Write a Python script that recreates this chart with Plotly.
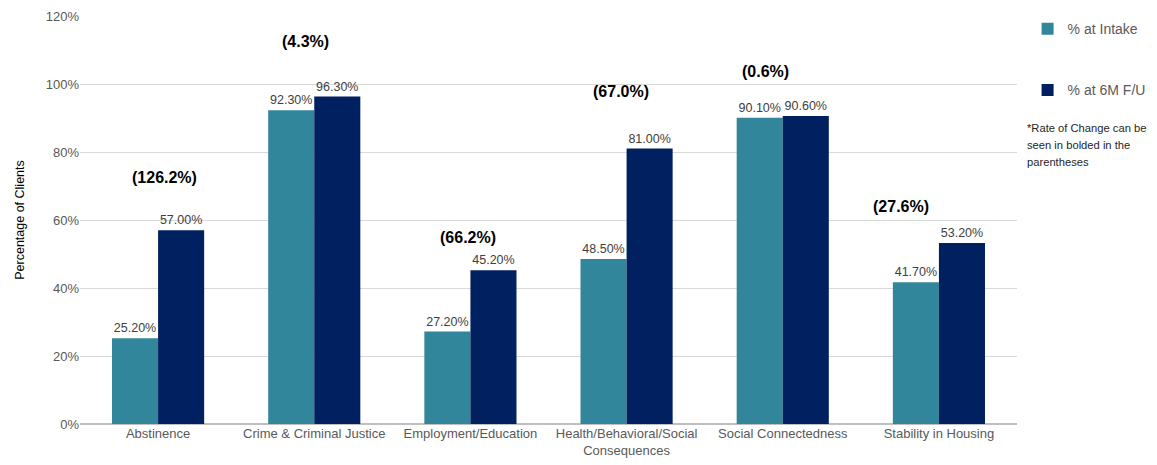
import plotly.graph_objects as go

categories = ["Abstinence", "Crime & Criminal Justice", "Employment/Education",
              "Health/Behavioral/Social<br>Consequences", "Social Connectedness", "Stability in Housing"]
intake = [25.2, 92.3, 27.2, 48.5, 90.1, 41.7]
followup = [57.0, 96.3, 45.2, 81.0, 90.6, 53.2]
rate_labels = ["(126.2%)", "(4.3%)", "(66.2%)", "(67.0%)", "(0.6%)", "(27.6%)"]
rate_label_y = [72.6, 112.4, 55.0, 97.9, 103.8, 64.1]
rate_label_xshift = [6, -9, -2, -6, -17, -38]
note_lines = ["*Rate of Change can be", "seen in bolded in the", "parentheses"]
note_line_y = [0.7255, 0.6838, 0.6422]
tick_vals = [0, 20, 40, 60, 80, 100, 120]

FONT = "Liberation Sans, Arial, sans-serif"

fig = go.Figure()
fig.add_trace(go.Bar(
    x=categories, y=intake, name="% at Intake", legendgroup="a",
    marker=dict(color="#31869B", line=dict(width=0)),
    text=[f"{v:.2f}%" for v in intake], textposition="outside",
    textfont=dict(size=12.5, color="#404040", family=FONT), cliponaxis=False,
))
fig.add_trace(go.Bar(
    x=categories, y=followup, name="% at 6M F/U", legendgroup="b",
    marker=dict(color="#002060", line=dict(width=0)),
    text=[f"{v:.2f}%" for v in followup], textposition="outside",
    textfont=dict(size=12.5, color="#404040", family=FONT), cliponaxis=False,
))

for c, lab, yv, xs in zip(categories, rate_labels, rate_label_y, rate_label_xshift):
    fig.add_annotation(x=c, y=yv, text=f"<b>{lab}</b>", showarrow=False, xshift=xs,
                       font=dict(size=16, color="#000000", family=FONT))

for line, ly in zip(note_lines, note_line_y):
    fig.add_annotation(xref="paper", yref="paper", x=1.0085, y=ly, xanchor="left", yanchor="middle",
                       align="left", showarrow=False, text=line,
                       font=dict(size=11.2, color="#262626", family=FONT))

fig.update_layout(
    width=1149, height=457,
    margin=dict(l=72, r=140, t=8, b=41, autoexpand=False),
    plot_bgcolor="white", paper_bgcolor="white",
    barmode="group", bargap=0.41, bargroupgap=0,
    font=dict(family=FONT, color="#595959", size=13),
    legend=dict(x=1.0113, y=1.007, xanchor="left", yanchor="top", traceorder="grouped",
                tracegroupgap=40, font=dict(size=14, color="#595959", family=FONT),
                itemwidth=30),
    xaxis=dict(showgrid=False, showline=False, ticks="", automargin=False,
               tickfont=dict(size=13, color="#595959", family=FONT)),
    yaxis=dict(range=[0, 120], tickvals=tick_vals, ticktext=[f"{v}%" for v in tick_vals],
               showgrid=True, gridcolor="#D9D9D9", gridwidth=1, zeroline=True,
               zerolinecolor="#BFBFBF", zerolinewidth=1.5, showline=False, automargin=False,
               tickfont=dict(size=13, color="#595959", family=FONT),
               title=dict(text="Percentage of Clients", standoff=18,
                          font=dict(size=12.5, color="#000000", family=FONT))),
)
fig.write_html("out.html")
